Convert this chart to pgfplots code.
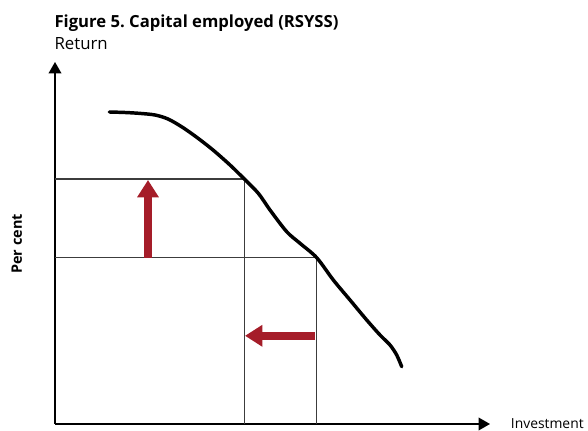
\documentclass[border=0pt]{standalone}
\usepackage{pgfplots}
\pgfplotsset{compat=1.18}
\usepackage{fontspec}
\setmainfont{Open Sans}
\usetikzlibrary{arrows.meta}
\definecolor{cArrow}{HTML}{A51D29}
\definecolor{cGuide}{HTML}{3C3C3C}
\frenchspacing

\begin{document}
\begin{tikzpicture}
\begin{axis}[
  x=0.75pt, y=0.75pt,
  xmin=55, xmax=490, ymin=6, ymax=368,
  axis lines=left, ticks=none, clip=false,
  axis line style={line width=1pt, -{Triangle[width=9.5pt, length=8.5pt]}},
]
% canvas of the reference, 588 x 430 px
\path (axis cs:0,0) rectangle (axis cs:588,430);
% guide lines
\addplot[cGuide, line width=0.8pt] coordinates {(55,251) (244.3,251) (244.3,6)};
\addplot[cGuide, line width=0.8pt] coordinates {(55,172.3) (316.7,172.3) (316.7,6)};
% curve
\addplot[black, line width=2.6pt, smooth, tension=0.5, line cap=round] coordinates {
  (109.3,318) (125,317.5) (140,316.6) (155,315) (168,311) (182,303)
  (197,292.5) (213,280) (230,265) (244.3,251) (258.3,236.7) (270,220)
  (286.7,198.3) (300,186.7) (316.7,172.3) (333.3,150) (350,130) (366.7,110)
  (380,95) (390,85) (396.7,75) (401.7,63.3)};
% red arrows
\addplot[cArrow, line width=5.6pt, -{Triangle[width=15.5pt, length=13pt]}] coordinates {(148,172.3) (148,250)};
\addplot[cArrow, line width=5.6pt, -{Triangle[width=15.5pt, length=13pt]}] coordinates {(315,94.2) (245,94.2)};
% texts
\node[anchor=base west, inner sep=0pt, font=\fontsize{12.5}{14}\selectfont\bfseries] at (axis cs:54.3,402.7) {Figure 5. Capital employed (RSYSS)};
\node[anchor=base west, inner sep=0pt, font=\fontsize{12.6}{14}\selectfont] at (axis cs:54.3,380.7) {Return};
\node[rotate=90, inner sep=0pt, font=\fontsize{10.8}{12}\selectfont\bfseries] at (axis cs:16.7,186) {Per cent};
\node[anchor=west, inner sep=0pt, font=\fontsize{10.4}{12}\selectfont] at (axis cs:510.7,6.5) {Investment};
\end{axis}
\end{tikzpicture}
\end{document}
